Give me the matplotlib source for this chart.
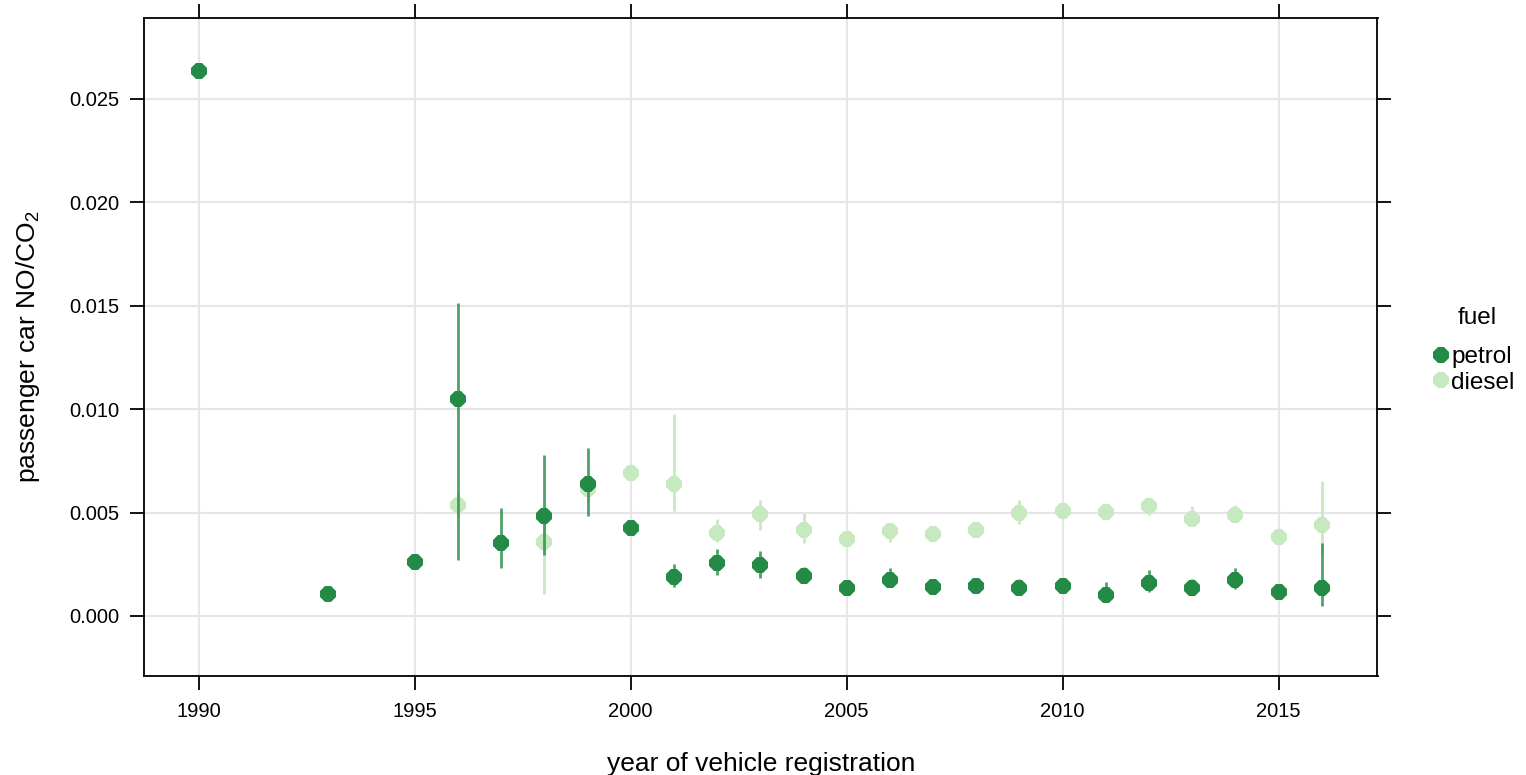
import matplotlib
matplotlib.use("Agg")
import matplotlib.pyplot as plt
import numpy as np

plt.rcParams['font.family'] = ['Liberation Sans', 'DejaVu Sans']
plt.rcParams['mathtext.default'] = 'regular'

petrol_years = [1990, 1993, 1995, 1996, 1997, 1998, 1999, 2000, 2001, 2002, 2003, 2004,
                2005, 2006, 2007, 2008, 2009, 2010, 2011, 2012, 2013, 2014, 2015, 2016]
petrol_mean = [0.02633, 0.00107, 0.00263, 0.01048, 0.00352, 0.00483, 0.00636, 0.00425,
               0.00190, 0.00257, 0.00247, 0.00192, 0.00134, 0.00176, 0.00142, 0.00143,
               0.00136, 0.00144, 0.00102, 0.00158, 0.00134, 0.00174, 0.00118, 0.00134]
petrol_low = [0.02633, 0.00107, 0.00263, 0.00271, 0.00231, 0.00296, 0.00484, 0.00425,
              0.00140, 0.00199, 0.00183, 0.00170, 0.00120, 0.00150, 0.00130, 0.00130,
              0.00120, 0.00130, 0.00080, 0.00115, 0.00120, 0.00131, 0.00100, 0.00047]
petrol_high = [0.02633, 0.00107, 0.00263, 0.01515, 0.00522, 0.00780, 0.00814, 0.00425,
               0.00252, 0.00325, 0.00316, 0.00237, 0.00150, 0.00231, 0.00160, 0.00160,
               0.00180, 0.00160, 0.00163, 0.00223, 0.00180, 0.00231, 0.00140, 0.00354]

diesel_years = [1996, 1998, 1999, 2000, 2001, 2002, 2003, 2004, 2005, 2006, 2007, 2008,
                2009, 2010, 2011, 2012, 2013, 2014, 2015, 2016]
diesel_mean = [0.00538, 0.00359, 0.00612, 0.00693, 0.00636, 0.00402, 0.00494, 0.00418,
               0.00370, 0.00410, 0.00394, 0.00418, 0.00499, 0.00507, 0.00505, 0.00530,
               0.00467, 0.00489, 0.00384, 0.00441]
diesel_low = [0.00480, 0.00107, 0.00550, 0.00660, 0.00507, 0.00357, 0.00418, 0.00354,
              0.00350, 0.00360, 0.00370, 0.00390, 0.00446, 0.00480, 0.00480, 0.00490,
              0.00440, 0.00460, 0.00360, 0.00300]
diesel_high = [0.00600, 0.00460, 0.00680, 0.00720, 0.00974, 0.00470, 0.00559, 0.00499,
               0.00390, 0.00450, 0.00420, 0.00450, 0.00559, 0.00530, 0.00530, 0.00556,
               0.00530, 0.00534, 0.00410, 0.00651]

x_ticks = [1990, 1995, 2000, 2005, 2010, 2015]
y_ticks = [0.000, 0.005, 0.010, 0.015, 0.020, 0.025]
y_tick_labels = ['0.000', '0.005', '0.010', '0.015', '0.020', '0.025']

petrol_col = '#238b45'
diesel_col = '#c7e9c0'

fig = plt.figure(figsize=(15.26, 7.75), dpi=100)
ax = fig.add_axes([144/1526, 1 - 676/775, (1377.5-144)/1526, (676-18)/775])

ax.set_xlim(1988.73, 2017.29)
ax.set_ylim(-0.0029, 0.0289)

ax.set_xticks(x_ticks)
ax.set_yticks(y_ticks)
ax.set_yticklabels(y_tick_labels)
ax.grid(True, color='#e6e6e6', linewidth=1.5)
ax.set_axisbelow(True)

# diesel first
ax.vlines(diesel_years, diesel_low, diesel_high, color=diesel_col, linewidth=2, zorder=2)
ax.plot(diesel_years, diesel_mean, linestyle='none', marker='8', markersize=13,
        color=diesel_col, markeredgewidth=0, zorder=3, label='diesel')
ax.vlines(petrol_years, petrol_low, petrol_high, color=petrol_col, alpha=0.8, linewidth=2, zorder=4)
ax.plot(petrol_years, petrol_mean, linestyle='none', marker='8', markersize=13,
        color=petrol_col, markeredgewidth=0, zorder=5, label='petrol')

for s in ax.spines.values():
    s.set_linewidth(1.3)
    s.set_color('black')

ax.tick_params(axis='both', which='both', direction='out', length=10, width=1.3,
               top=True, right=True, labeltop=False, labelright=False,
               labelsize=14.5, colors='black')
ax.tick_params(axis='y', pad=8)
ax.tick_params(axis='x', pad=9)

ax.set_xlabel('year of vehicle registration', fontsize=19, labelpad=22)
ax.set_ylabel('passenger car NO/CO$_2$', fontsize=19, labelpad=19)

# legend
fig.text(1477/1526, 1 - 318/775, 'fuel', fontsize=17.5, ha='center', va='center')
h_p, = ax.plot([], [], linestyle='none', marker='8', markersize=12, color=petrol_col, markeredgewidth=0)
h_d, = ax.plot([], [], linestyle='none', marker='8', markersize=12, color=diesel_col, markeredgewidth=0)
fig.legend([h_p, h_d], ['petrol', 'diesel'], loc='upper left',
           bbox_to_anchor=(1422/1526, 1 - 334/775), frameon=False, fontsize=17.5,
           handlelength=0.6, handletextpad=0.1, borderpad=0, labelspacing=0.15)

fig.savefig('out.png', dpi=100)
